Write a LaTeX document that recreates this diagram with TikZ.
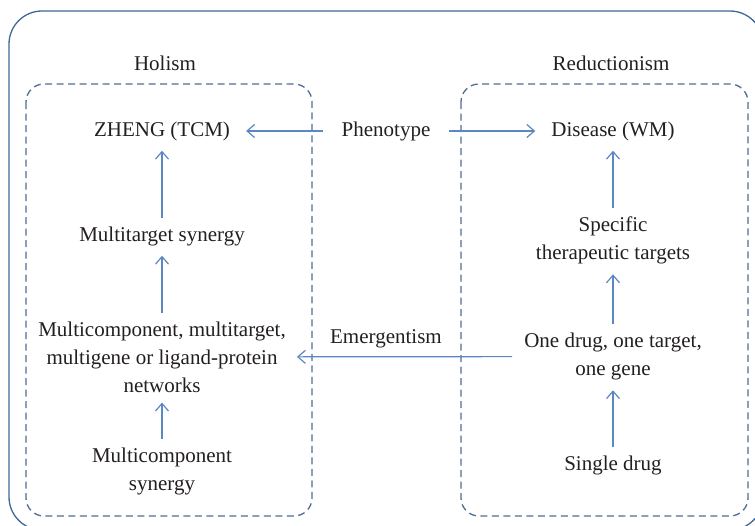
\documentclass[tikz,border=0pt]{standalone}
\usepackage{fontspec}
\setmainfont{Liberation Serif}
\usetikzlibrary{arrows.meta, positioning}
\definecolor{frameblue}{HTML}{3F6797}
\definecolor{boxblue}{HTML}{4D6D94}
\definecolor{arrowblue}{HTML}{5B87C2}
\definecolor{txt}{HTML}{231F20}

\begin{document}
\begin{tikzpicture}[x=1pt, y=-1pt, on grid,
    every node/.style={inner sep=0pt, text=txt, align=center, font=\fontsize{21}{28}\selectfont},
    link/.style={draw=arrowblue, line width=1.2pt, -{Straight Barb[length=7.5pt,width=13pt]}, shorten <=8.5pt, shorten >=10pt},
    group/.style={draw=boxblue, line width=1.3pt, dash pattern=on 7pt off 4.5pt, rounded corners=18pt},
    frame/.style={draw=frameblue, line width=1.3pt, rounded corners=33pt}]
            \useasboundingbox (0,0) rectangle (755,525);
            \clip (0,0) rectangle (755,525);
            \draw [frame] (9,11) rectangle (763,530);
            \draw [group] (26,84) rectangle (312,516);
            \draw [group] (461,84) rectangle (748,516);
            \node (holism) at (165,63) {Holism};
            \node (reduct) at (611,63) {Reductionism};
            \node (zheng) at (162,131) {ZHENG (TCM)};
            \node (pheno) [right=224pt of zheng] {Phenotype};
            \node (disease) [right=227pt of pheno] {Disease (WM)};
            \node (mtsyn) [below=105pt of zheng] {Multitarget synergy};
            \node (networks) [below=121pt of mtsyn] {Multicomponent, multitarget,\\ multigene or ligand-protein\\ networks};
            \node (mcsyn) [below=114pt of networks] {Multicomponent\\ synergy};
            \node (specific) [below=109.5pt of disease] {Specific\\ therapeutic targets};
            \node (onedrug) [below=116pt of specific] {One drug, one target,\\ one gene};
            \node (single) [below=108.5pt of onedrug] {Single drug};
            \path [link]
            	(mtsyn) edge (zheng)
            	(networks) edge (mtsyn)
            	(mcsyn) edge (networks)
            	(specific) edge (disease)
            	(onedrug) edge (specific)
            	(single) edge (onedrug);
            \path [link, shorten <=18.5pt, shorten >=16pt]
            	(pheno) edge (zheng)
            	(pheno) edge (disease);
            \path [link, shorten <=12pt, shorten >=11pt]
            	(onedrug) edge node [pos=0.58, above=8pt] (emerg) {Emergentism} (networks);
            \end{tikzpicture}
\end{document}
